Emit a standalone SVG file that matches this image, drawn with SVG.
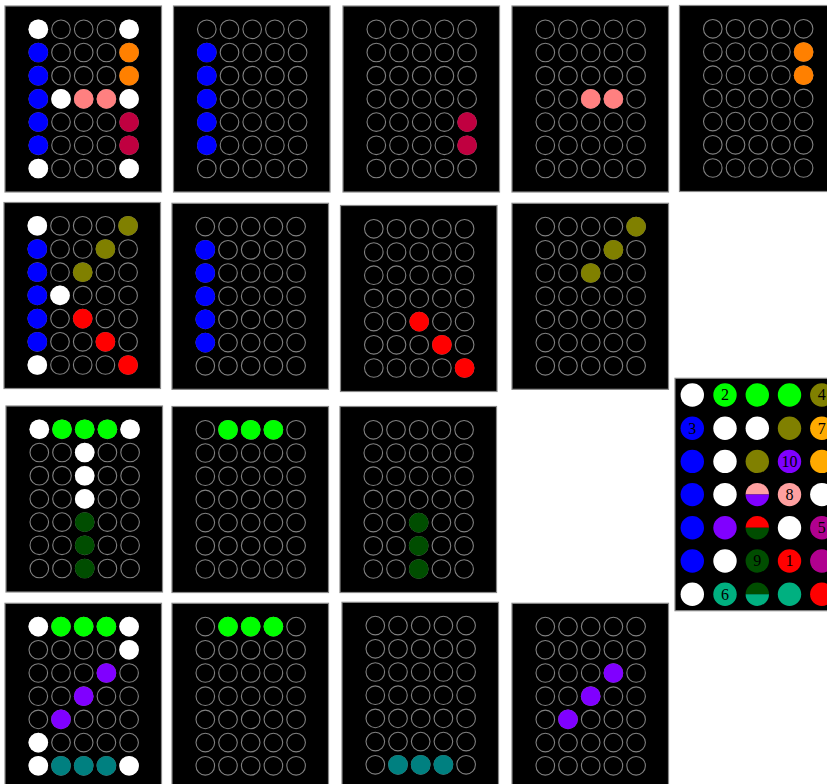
<svg xmlns="http://www.w3.org/2000/svg" xmlns:xlink="http://www.w3.org/1999/xlink" width="827" height="784" viewBox="0 0 827 784">
<style>
.bg{fill:#000;stroke:#888;stroke-width:1.2}
.o{fill:none;stroke:#808080;stroke-width:1.1}
.f{stroke:none}
.w{fill:#fff}.b{fill:#0000ff}.or{fill:#ff8000}.pk{fill:#ff8080}.cr{fill:#c00040}
.ol{fill:#808000}.rd{fill:#ff0000}.lm{fill:#00ff00}.dg{fill:#004d00}.pu{fill:#8000ff}.tl{fill:#008080}
.or2{fill:#ffaa00}.pk2{fill:#ffa0a0}.mg{fill:#b0008f}.tg{fill:#00b080}
.lbl{font-family:"Liberation Serif","Times New Roman",serif;font-size:16px;fill:#000;text-anchor:middle}
</style>
<defs>
<g id="grid" class="o">
<circle cx="33.3" cy="23.3" r="9.3"/><circle cx="56" cy="23.3" r="9.3"/><circle cx="78.7" cy="23.3" r="9.3"/><circle cx="101.4" cy="23.3" r="9.3"/><circle cx="124.1" cy="23.3" r="9.3"/>
<circle cx="33.3" cy="46.5" r="9.3"/><circle cx="56" cy="46.5" r="9.3"/><circle cx="78.7" cy="46.5" r="9.3"/><circle cx="101.4" cy="46.5" r="9.3"/><circle cx="124.1" cy="46.5" r="9.3"/>
<circle cx="33.3" cy="69.7" r="9.3"/><circle cx="56" cy="69.7" r="9.3"/><circle cx="78.7" cy="69.7" r="9.3"/><circle cx="101.4" cy="69.7" r="9.3"/><circle cx="124.1" cy="69.7" r="9.3"/>
<circle cx="33.3" cy="92.9" r="9.3"/><circle cx="56" cy="92.9" r="9.3"/><circle cx="78.7" cy="92.9" r="9.3"/><circle cx="101.4" cy="92.9" r="9.3"/><circle cx="124.1" cy="92.9" r="9.3"/>
<circle cx="33.3" cy="116.1" r="9.3"/><circle cx="56" cy="116.1" r="9.3"/><circle cx="78.7" cy="116.1" r="9.3"/><circle cx="101.4" cy="116.1" r="9.3"/><circle cx="124.1" cy="116.1" r="9.3"/>
<circle cx="33.3" cy="139.3" r="9.3"/><circle cx="56" cy="139.3" r="9.3"/><circle cx="78.7" cy="139.3" r="9.3"/><circle cx="101.4" cy="139.3" r="9.3"/><circle cx="124.1" cy="139.3" r="9.3"/>
<circle cx="33.3" cy="162.5" r="9.3"/><circle cx="56" cy="162.5" r="9.3"/><circle cx="78.7" cy="162.5" r="9.3"/><circle cx="101.4" cy="162.5" r="9.3"/><circle cx="124.1" cy="162.5" r="9.3"/>
</g>
</defs>
<rect width="827" height="784" fill="#fff"/>

<g id="p1" transform="translate(5,6)">
<rect class="bg" width="156.5" height="186"/><use href="#grid"/>
<circle class="w" cx="33.3" cy="23.3" r="9.8"/><circle class="b" cx="33.3" cy="46.5" r="9.8"/><circle class="b" cx="33.3" cy="69.7" r="9.8"/><circle class="b" cx="33.3" cy="92.9" r="9.8"/><circle class="b" cx="33.3" cy="116.1" r="9.8"/><circle class="b" cx="33.3" cy="139.3" r="9.8"/><circle class="w" cx="33.3" cy="162.5" r="9.8"/>
<circle class="w" cx="124.1" cy="23.3" r="9.8"/><circle class="or" cx="124.1" cy="46.5" r="9.8"/><circle class="or" cx="124.1" cy="69.7" r="9.8"/><circle class="w" cx="124.1" cy="92.9" r="9.8"/><circle class="cr" cx="124.1" cy="116.1" r="9.8"/><circle class="cr" cx="124.1" cy="139.3" r="9.8"/><circle class="w" cx="124.1" cy="162.5" r="9.8"/>
<circle class="w" cx="56" cy="92.9" r="9.8"/><circle class="pk" cx="78.7" cy="92.9" r="9.8"/><circle class="pk" cx="101.4" cy="92.9" r="9.8"/>
</g>
<g id="p2" transform="translate(173.5,6)">
<rect class="bg" width="156.5" height="186"/><use href="#grid"/>
<circle class="b" cx="33.3" cy="46.5" r="9.8"/><circle class="b" cx="33.3" cy="69.7" r="9.8"/><circle class="b" cx="33.3" cy="92.9" r="9.8"/><circle class="b" cx="33.3" cy="116.1" r="9.8"/><circle class="b" cx="33.3" cy="139.3" r="9.8"/>
</g>
<g id="p3" transform="translate(343,6)">
<rect class="bg" width="156.5" height="186"/><use href="#grid"/>
<circle class="cr" cx="124.1" cy="116.1" r="9.8"/><circle class="cr" cx="124.1" cy="139.3" r="9.8"/>
</g>
<g id="p4" transform="translate(512,6)">
<rect class="bg" width="156.5" height="186"/><use href="#grid"/>
<circle class="pk" cx="78.7" cy="92.9" r="9.8"/><circle class="pk" cx="101.4" cy="92.9" r="9.8"/>
</g>
<g id="p5" transform="translate(679.5,5.5)">
<rect class="bg" width="156.5" height="186"/><use href="#grid"/>
<circle class="or" cx="124.1" cy="46.5" r="9.8"/><circle class="or" cx="124.1" cy="69.7" r="9.8"/>
</g>

<g id="q1" transform="translate(4,202.5)">
<rect class="bg" width="156.5" height="186"/><use href="#grid"/>
<circle class="w" cx="33.3" cy="23.3" r="9.8"/><circle class="b" cx="33.3" cy="46.5" r="9.8"/><circle class="b" cx="33.3" cy="69.7" r="9.8"/><circle class="b" cx="33.3" cy="92.9" r="9.8"/><circle class="b" cx="33.3" cy="116.1" r="9.8"/><circle class="b" cx="33.3" cy="139.3" r="9.8"/><circle class="w" cx="33.3" cy="162.5" r="9.8"/>
<circle class="ol" cx="124.1" cy="23.3" r="9.8"/><circle class="ol" cx="101.4" cy="46.5" r="9.8"/><circle class="ol" cx="78.7" cy="69.7" r="9.8"/><circle class="w" cx="56" cy="92.9" r="9.8"/>
<circle class="rd" cx="78.7" cy="116.1" r="9.8"/><circle class="rd" cx="101.4" cy="139.3" r="9.8"/><circle class="rd" cx="124.1" cy="162.5" r="9.8"/>
</g>
<g id="q2" transform="translate(172,203.3)">
<rect class="bg" width="156.5" height="186"/><use href="#grid"/>
<circle class="b" cx="33.3" cy="46.5" r="9.8"/><circle class="b" cx="33.3" cy="69.7" r="9.8"/><circle class="b" cx="33.3" cy="92.9" r="9.8"/><circle class="b" cx="33.3" cy="116.1" r="9.8"/><circle class="b" cx="33.3" cy="139.3" r="9.8"/>
</g>
<g id="q3" transform="translate(340.5,205.5)">
<rect class="bg" width="156.5" height="186"/><use href="#grid"/>
<circle class="rd" cx="78.7" cy="116.1" r="9.8"/><circle class="rd" cx="101.4" cy="139.3" r="9.8"/><circle class="rd" cx="124.1" cy="162.5" r="9.8"/>
</g>
<g id="q4" transform="translate(512,203.3)">
<rect class="bg" width="156.5" height="186"/><use href="#grid"/>
<circle class="ol" cx="124.1" cy="23.3" r="9.8"/><circle class="ol" cx="101.4" cy="46.5" r="9.8"/><circle class="ol" cx="78.7" cy="69.7" r="9.8"/>
</g>

<g id="r1" transform="translate(6,406)">
<rect class="bg" width="156.5" height="186"/><use href="#grid"/>
<circle class="w" cx="33.3" cy="23.3" r="9.8"/><circle class="lm" cx="56" cy="23.3" r="9.8"/><circle class="lm" cx="78.7" cy="23.3" r="9.8"/><circle class="lm" cx="101.4" cy="23.3" r="9.8"/><circle class="w" cx="124.1" cy="23.3" r="9.8"/>
<circle class="w" cx="78.7" cy="46.5" r="9.8"/><circle class="w" cx="78.7" cy="69.7" r="9.8"/><circle class="w" cx="78.7" cy="92.9" r="9.8"/>
<circle class="dg" cx="78.7" cy="116.1" r="9.8"/><circle class="dg" cx="78.7" cy="139.3" r="9.8"/><circle class="dg" cx="78.7" cy="162.5" r="9.8"/>
</g>
<g id="r2" transform="translate(172,406.5)">
<rect class="bg" width="156.5" height="186"/><use href="#grid"/>
<circle class="lm" cx="56" cy="23.3" r="9.8"/><circle class="lm" cx="78.7" cy="23.3" r="9.8"/><circle class="lm" cx="101.4" cy="23.3" r="9.8"/>
</g>
<g id="r3" transform="translate(340,406.5)">
<rect class="bg" width="156.5" height="186"/><use href="#grid"/>
<circle class="dg" cx="78.7" cy="116.1" r="9.8"/><circle class="dg" cx="78.7" cy="139.3" r="9.8"/><circle class="dg" cx="78.7" cy="162.5" r="9.8"/>
</g>

<g id="s1" transform="translate(5,603.3)">
<rect class="bg" width="156.5" height="186"/><use href="#grid"/>
<circle class="w" cx="33.3" cy="23.3" r="9.8"/><circle class="lm" cx="56" cy="23.3" r="9.8"/><circle class="lm" cx="78.7" cy="23.3" r="9.8"/><circle class="lm" cx="101.4" cy="23.3" r="9.8"/><circle class="w" cx="124.1" cy="23.3" r="9.8"/>
<circle class="w" cx="124.1" cy="46.5" r="9.8"/><circle class="pu" cx="101.4" cy="69.7" r="9.8"/><circle class="pu" cx="78.7" cy="92.9" r="9.8"/><circle class="pu" cx="56" cy="116.1" r="9.8"/><circle class="w" cx="33.3" cy="139.3" r="9.8"/>
<circle class="w" cx="33.3" cy="162.5" r="9.8"/><circle class="tl" cx="56" cy="162.5" r="9.8"/><circle class="tl" cx="78.7" cy="162.5" r="9.8"/><circle class="tl" cx="101.4" cy="162.5" r="9.8"/><circle class="w" cx="124.1" cy="162.5" r="9.8"/>
</g>
<g id="s2" transform="translate(172,603.3)">
<rect class="bg" width="156.5" height="186"/><use href="#grid"/>
<circle class="lm" cx="56" cy="23.3" r="9.8"/><circle class="lm" cx="78.7" cy="23.3" r="9.8"/><circle class="lm" cx="101.4" cy="23.3" r="9.8"/>
</g>
<g id="s3" transform="translate(342,602.3)">
<rect class="bg" width="156.5" height="186"/><use href="#grid"/>
<circle class="tl" cx="56" cy="162.5" r="9.8"/><circle class="tl" cx="78.7" cy="162.5" r="9.8"/><circle class="tl" cx="101.4" cy="162.5" r="9.8"/>
</g>
<g id="s4" transform="translate(512,603.3)">
<rect class="bg" width="156.5" height="186"/><use href="#grid"/>
<circle class="pu" cx="101.4" cy="69.7" r="9.8"/><circle class="pu" cx="78.7" cy="92.9" r="9.8"/><circle class="pu" cx="56" cy="116.1" r="9.8"/>
</g>

<g id="legend" transform="translate(675,378.3)">
<rect class="bg" width="165" height="232.4"/>
<circle class="w" cx="17.3" cy="16.7" r="11.7"/><circle class="lm" cx="50" cy="16.7" r="11.7"/><circle class="lm" cx="82.3" cy="16.7" r="11.7"/><circle class="lm" cx="114.5" cy="16.7" r="11.7"/><circle class="ol" cx="146.8" cy="16.7" r="11.7"/>
<circle class="b" cx="17.3" cy="49.9" r="11.7"/><circle class="w" cx="50" cy="49.9" r="11.7"/><circle class="w" cx="82.3" cy="49.9" r="11.7"/><circle class="ol" cx="114.5" cy="49.9" r="11.7"/><circle class="or2" cx="146.8" cy="49.9" r="11.7"/>
<circle class="b" cx="17.3" cy="83.1" r="11.7"/><circle class="w" cx="50" cy="83.1" r="11.7"/><circle class="ol" cx="82.3" cy="83.1" r="11.7"/><circle class="pu" cx="114.5" cy="83.1" r="11.7"/><circle class="or2" cx="146.8" cy="83.1" r="11.7"/>
<circle class="b" cx="17.3" cy="116.3" r="11.7"/><circle class="w" cx="50" cy="116.3" r="11.7"/>
<path class="pk2" d="M70.6,116.3 A11.7,11.7 0 0 1 94,116.3 Z"/><path class="pu" d="M70.6,116.3 A11.7,11.7 0 0 0 94,116.3 Z"/>
<circle class="pk2" cx="114.5" cy="116.3" r="11.7"/><circle class="w" cx="146.8" cy="116.3" r="11.7"/>
<circle class="b" cx="17.3" cy="149.5" r="11.7"/><circle class="pu" cx="50" cy="149.5" r="11.7"/>
<path class="rd" d="M70.6,149.5 A11.7,11.7 0 0 1 94,149.5 Z"/><path class="dg" d="M70.6,149.5 A11.7,11.7 0 0 0 94,149.5 Z"/>
<circle class="w" cx="114.5" cy="149.5" r="11.7"/><circle class="mg" cx="146.8" cy="149.5" r="11.7"/>
<circle class="b" cx="17.3" cy="182.7" r="11.7"/><circle class="w" cx="50" cy="182.7" r="11.7"/><circle class="dg" cx="82.3" cy="182.7" r="11.7"/><circle class="rd" cx="114.5" cy="182.7" r="11.7"/><circle class="mg" cx="146.8" cy="182.7" r="11.7"/>
<circle class="w" cx="17.3" cy="215.9" r="11.7"/><circle class="tg" cx="50" cy="215.9" r="11.7"/>
<path class="dg" d="M70.6,215.9 A11.7,11.7 0 0 1 94,215.9 Z"/><path class="tg" d="M70.6,215.9 A11.7,11.7 0 0 0 94,215.9 Z"/>
<circle class="tg" cx="114.5" cy="215.9" r="11.7"/><circle class="rd" cx="146.8" cy="215.9" r="11.7"/>
<text class="lbl" x="50" y="22.2">2</text>
<text class="lbl" x="146.8" y="22.2">4</text>
<text class="lbl" x="17.3" y="55.4">3</text>
<text class="lbl" x="146.8" y="55.4">7</text>
<text class="lbl" x="114.5" y="88.6">10</text>
<text class="lbl" x="114.5" y="121.8">8</text>
<text class="lbl" x="146.8" y="155">5</text>
<text class="lbl" x="82.3" y="188.2">9</text>
<text class="lbl" x="114.5" y="188.2">1</text>
<text class="lbl" x="50" y="221.4">6</text>
</g>
</svg>
